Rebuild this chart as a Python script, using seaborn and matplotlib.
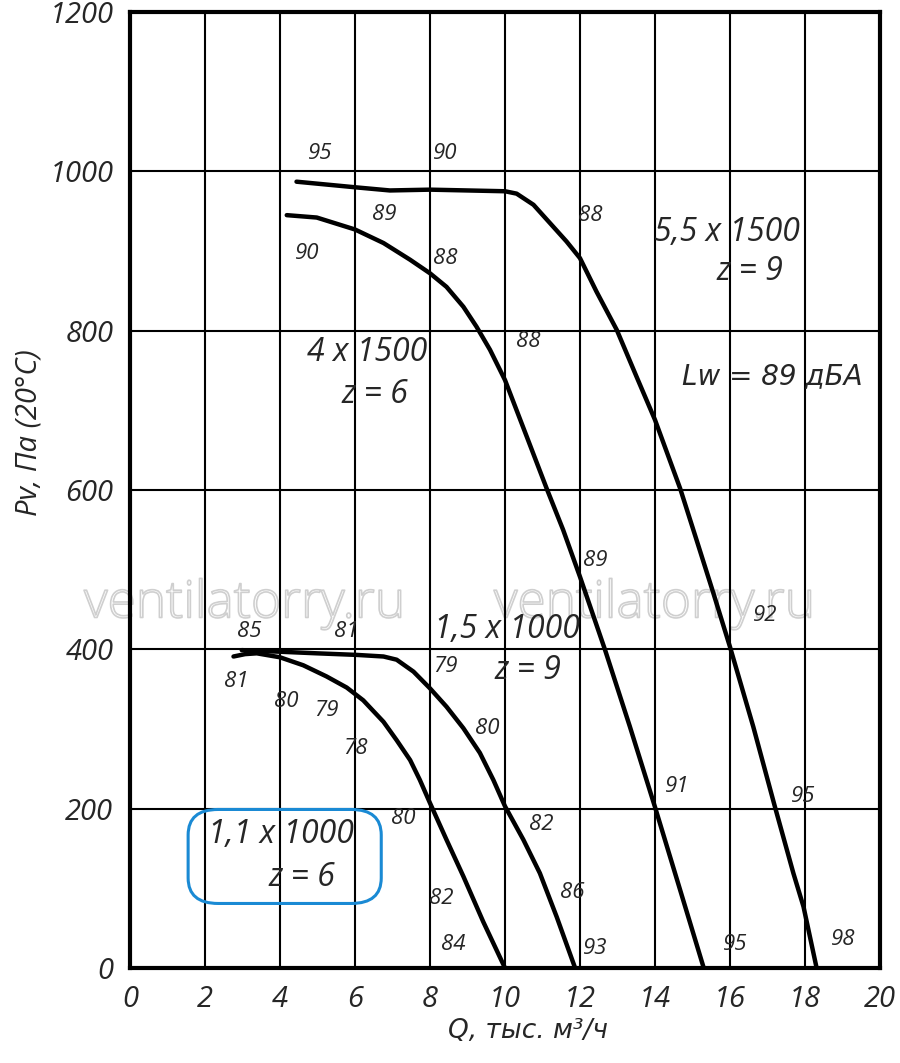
import numpy as np
import pandas as pd
import matplotlib
matplotlib.use('Agg')
import matplotlib.pyplot as plt
import matplotlib.patheffects as pe
from matplotlib.patches import FancyBboxPatch
import seaborn as sns

sns.set_style('white')
plt.rcParams['font.family'] = ['Open Sans', 'DejaVu Sans']
plt.rcParams['font.style'] = 'italic'
# slanted upright forms for the Cyrillic texts
cyr_font = ['DejaVu Sans']

#%% DATA (Q in thousand m3/h, Pv in Pa)
q_11 = [2.76, 3.07, 3.38, 4.0, 4.62, 5.24, 5.78, 6.22, 6.76, 7.11, 7.47, 7.73, 8.0, 8.44, 8.89, 9.42, 10.0]
p_11 = [391, 394, 395, 390, 380, 366, 352, 336, 309, 286, 261, 236, 207, 161, 115, 58, 0]

q_15 = [2.98, 4.0, 4.98, 6.05, 6.76, 7.11, 7.56, 8.0, 8.44, 8.89, 9.33, 9.69, 10.0, 10.49, 10.93, 11.38, 11.87]
p_15 = [399, 397, 395, 393, 391, 387, 372, 351, 328, 301, 270, 236, 203, 161, 119, 64, 0]

q_4 = [4.18, 4.98, 6.0, 6.76, 7.47, 8.0, 8.44, 8.89, 9.24, 9.6, 10.0, 10.31, 10.58, 11.11,
       11.55, 12.0, 12.67, 13.33, 14.0, 14.67, 15.3]
p_4 = [945, 942, 927, 910, 889, 872, 855, 830, 805, 776, 738, 700, 667, 602,
       550, 491, 399, 303, 202, 98, 0]

q_55 = [4.44, 6.0, 6.93, 8.0, 10.0, 10.31, 10.76, 11.2, 11.64, 12.0, 12.44, 12.98, 13.51, 14.0,
        14.67, 15.11, 15.56, 16.0, 16.62, 17.2, 17.69, 17.96, 18.31]
p_55 = [987, 980, 976, 977, 975, 972, 958, 935, 912, 891, 849, 801, 742, 688,
        602, 537, 470, 403, 303, 202, 119, 77, 0]

# noise level marks (text, Q, Pv)
lw_text = ['95', '90', '89', '90', '88', '88', '88', '89', '92', '91', '95', '95', '98', '93',
           '86', '82', '80', '79', '85', '81', '81', '80', '79', '78', '80', '82', '84']
lw_q = [5.07, 8.4, 6.77, 4.72, 8.4, 12.27, 10.61, 12.4, 16.93, 14.59, 17.95, 16.13, 19.01, 12.4,
        11.79, 10.96, 9.52, 8.4, 3.17, 5.76, 2.83, 4.16, 5.25, 6.0, 7.28, 8.29, 8.61]
lw_p = [1023, 1023, 946, 897, 891, 945, 786, 511, 443, 228, 215, 30, 36, 25,
        95, 180, 301, 379, 422, 422, 360, 335, 323, 275, 188, 87, 30]

# fan labels
fan_text = ['5,5 x 1500', 'z = 9', '4 x 1500', 'z = 6',
            '1,5 x 1000', 'z = 9', '1,1 x 1000', 'z = 6']
fan_q = [15.92, 16.53, 6.32, 6.53, 10.05, 10.61, 4.03, 4.59]
fan_p = [923, 874, 772, 720, 425, 374, 167, 114]

x_ticks = list(range(0, 21, 2))
y_ticks = list(range(0, 1201, 200))

#%% PLOT
fig = plt.figure(figsize=(9, 10.63), dpi=100)
ax = fig.add_axes([130 / 900, 1 - 968 / 1063, 750 / 900, 956 / 1063])

curves = [(q_11, p_11), (q_15, p_15), (q_4, p_4), (q_55, p_55)]
for q, p in curves:
    df = pd.DataFrame({'Q': q, 'P': p})
    sns.lineplot(data=df, x='Q', y='P', ax=ax, color='black', linewidth=3.2,
                 sort=False, estimator=None, zorder=3)

ax.set_xlim(0, 20)
ax.set_ylim(0, 1200)
ax.set_xticks(x_ticks)
ax.set_yticks(y_ticks)
ax.set_xticklabels([str(t) for t in x_ticks], fontsize=21)
ax.set_yticklabels([str(t) for t in y_ticks], fontsize=21)
ax.tick_params(axis='both', direction='out', length=7, width=1.5, color='black', pad=5)
ax.grid(True, color='black', linewidth=1.5)
ax.set_axisbelow(True)
for s in ax.spines.values():
    s.set_visible(True)
    s.set_color('black')
    s.set_linewidth(3)

ax.set_xlabel('Q, тыс. м³/ч', fontsize=19, family=cyr_font, style='oblique')
ax.set_ylabel('Pv, Па (20°C)', fontsize=21)
ax.xaxis.set_label_coords(0.53, -0.052)
ax.yaxis.set_label_coords(-0.115, 0.56)

for t, q, p in zip(lw_text, lw_q, lw_p):
    ax.text(q, p, t, fontsize=16, ha='center', va='center', zorder=4)

for t, q, p in zip(fan_text, fan_q, fan_p):
    ax.text(q, p, t, fontsize=23, ha='center', va='center', zorder=4)
ax.text(17.12, 743, 'Lw = 89 дБА', fontsize=20, ha='center', va='center', zorder=4,
        family=cyr_font, style='oblique')

# blue box around the 1,1 x 1000 label
box = FancyBboxPatch((1.9, 95), 4.45, 90, boxstyle='round,pad=0.35,rounding_size=0.8',
                     mutation_aspect=40, fill=False, edgecolor='#1a8ad4', linewidth=2.2, zorder=4)
ax.add_patch(box)

# watermark
for q in [3.07, 14.0]:
    ax.text(q, 440, 'ventilatorry.ru', fontsize=37, ha='center', va='baseline', color='white',
            style='normal', weight='light',
            path_effects=[pe.Stroke(linewidth=1.2, foreground='#cfcfcf')], zorder=0.3,
            clip_on=False)

fig.savefig('out.png', dpi=100)
